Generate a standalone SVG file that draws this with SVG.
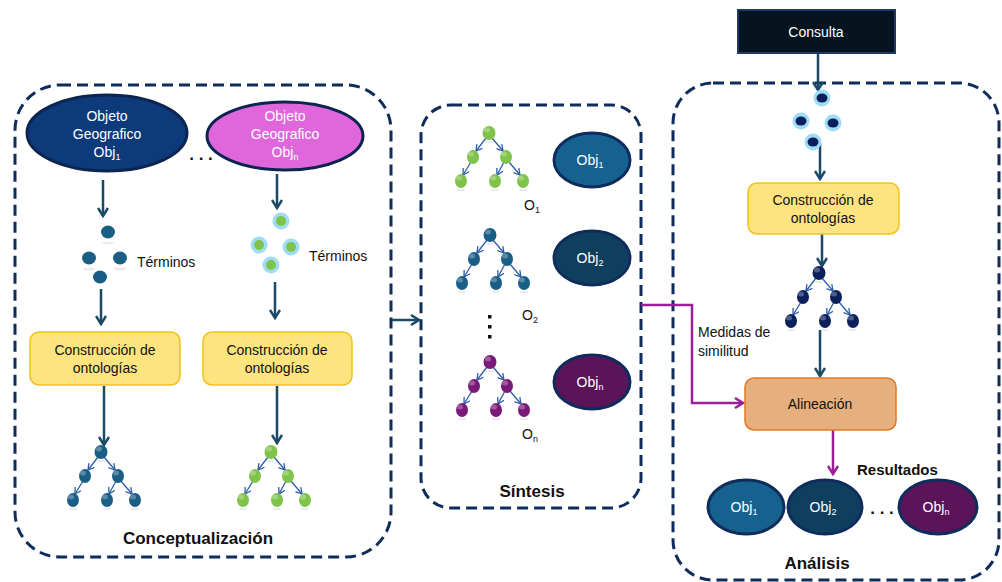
<svg xmlns="http://www.w3.org/2000/svg" width="1002" height="582" viewBox="0 0 1002 582">
  <style>
    .frame { fill: none; stroke: #0f2d5c; stroke-width: 3; stroke-dasharray: 11 6; }
    .txt { font-family: "Liberation Sans", Arial, sans-serif; font-size: 14px; fill: #111; }
    .wt { fill: #fff; }
    .ttl { font-family: "Liberation Sans", Arial, sans-serif; font-size: 17px; font-weight: bold; fill: #111; }
    .sub { font-size: 9px; }
    .flow { fill: none; stroke: #1b4a66; stroke-width: 2.5; }
    .pflow { fill: none; stroke: #9b1f98; stroke-width: 2.5; }
    .edge { fill: none; stroke: #2d5da8; stroke-width: 1.3; }
    .build { fill: #fde47f; stroke: #f2c21c; stroke-width: 1.5; }
    .align { fill: #e6b07e; stroke: #e07a22; stroke-width: 1.5; }
    .obj { stroke: #0f2d5c; stroke-width: 3; }
    .shine { fill: #fff; opacity: 0.28; }
    .shadow { fill: #dfe2e6; opacity: 0.7; }
  </style>
  <defs>
    <marker id="ah" viewBox="0 0 12 12" refX="10" refY="6" markerWidth="12" markerHeight="12" orient="auto" markerUnits="userSpaceOnUse">
      <path d="M2,1 L10,6 L2,11" fill="none" stroke="#1b4a66" stroke-width="2.5"/>
    </marker>
    <marker id="ahp" viewBox="0 0 12 12" refX="10" refY="6" markerWidth="12" markerHeight="12" orient="auto" markerUnits="userSpaceOnUse">
      <path d="M2,1 L10,6 L2,11" fill="none" stroke="#9b1f98" stroke-width="2.5"/>
    </marker>
    <marker id="ahs" viewBox="0 0 8 8" refX="7" refY="4" markerWidth="8" markerHeight="8" orient="auto" markerUnits="userSpaceOnUse">
      <path d="M1,0.5 L7,4 L1,7.5" fill="none" stroke="#2d5da8" stroke-width="1.3"/>
    </marker>
    <!-- small ontology tree: edges + nodes coloured by currentColor -->
    <g id="tree">
      <ellipse class="shadow" cx="-28" cy="57" rx="4" ry="1.2"/>
      <ellipse class="shadow" cx="6" cy="57" rx="4" ry="1.2"/>
      <ellipse class="shadow" cx="34" cy="57" rx="4" ry="1.2"/>
      <ellipse class="shadow" cx="0" cy="9" rx="4" ry="1.2"/>
      <line class="edge" x1="-3" y1="5" x2="-13" y2="18" marker-end="url(#ahs)"/>
      <line class="edge" x1="3" y1="5" x2="14" y2="18" marker-end="url(#ahs)"/>
      <line class="edge" x1="-18" y1="29" x2="-26" y2="42" marker-end="url(#ahs)"/>
      <line class="edge" x1="15" y1="29" x2="8" y2="42" marker-end="url(#ahs)"/>
      <line class="edge" x1="20" y1="29" x2="31" y2="42" marker-end="url(#ahs)"/>
      <ellipse cx="0" cy="0" rx="6.5" ry="7" fill="currentColor"/>
      <ellipse cx="-16" cy="24" rx="6" ry="7" fill="currentColor"/>
      <ellipse cx="17" cy="24" rx="6" ry="7" fill="currentColor"/>
      <ellipse cx="-28" cy="48" rx="6" ry="7" fill="currentColor"/>
      <ellipse cx="6" cy="48" rx="6" ry="7" fill="currentColor"/>
      <ellipse cx="34" cy="48" rx="6" ry="7" fill="currentColor"/>
      <ellipse class="shine" cx="-2" cy="-3" rx="3" ry="2.5"/>
      <ellipse class="shine" cx="-18" cy="21" rx="3" ry="2.5"/>
      <ellipse class="shine" cx="15" cy="21" rx="3" ry="2.5"/>
      <ellipse class="shine" cx="-30" cy="45" rx="3" ry="2.5"/>
      <ellipse class="shine" cx="4" cy="45" rx="3" ry="2.5"/>
      <ellipse class="shine" cx="32" cy="45" rx="3" ry="2.5"/>
    </g>
  </defs>

  <rect width="1002" height="582" fill="#fff"/>

  <!-- stage frames -->
  <g id="stages">
    <rect id="conceptualizacion" class="frame" x="15" y="85" width="376" height="472" rx="45"/>
    <rect id="sintesis" class="frame" x="421" y="105" width="220" height="403" rx="30"/>
    <rect id="analisis" class="frame" x="673" y="83" width="326" height="497" rx="40"/>
    <text class="ttl" x="198" y="544" text-anchor="middle">Conceptualización</text>
    <text class="ttl" x="532" y="497" text-anchor="middle">Síntesis</text>
    <text class="ttl" x="817" y="569" text-anchor="middle">Análisis</text>
  </g>

  <!-- connectors -->
  <g id="connectors">
    <line class="flow" x1="103" y1="180" x2="103" y2="216" marker-end="url(#ah)"/>
    <line class="flow" x1="277" y1="174" x2="277" y2="208" marker-end="url(#ah)"/>
    <line class="flow" x1="101" y1="289" x2="101" y2="324" marker-end="url(#ah)"/>
    <line class="flow" x1="275" y1="282" x2="275" y2="318" marker-end="url(#ah)"/>
    <line class="flow" x1="104" y1="386" x2="104" y2="445" marker-end="url(#ah)"/>
    <line class="flow" x1="277" y1="386" x2="277" y2="443" marker-end="url(#ah)"/>
    <line class="flow" x1="392" y1="320" x2="419" y2="320" marker-end="url(#ah)"/>
    <line class="flow" x1="818" y1="53" x2="818" y2="90" marker-end="url(#ah)"/>
    <line class="flow" x1="820" y1="143" x2="820" y2="179" marker-end="url(#ah)"/>
    <line class="flow" x1="822" y1="234" x2="822" y2="266" marker-end="url(#ah)"/>
    <line class="flow" x1="820" y1="330" x2="820" y2="376" marker-end="url(#ah)"/>
    <polyline class="pflow" points="641,305 692,305 692,403 743,403" marker-end="url(#ahp)"/>
    <line class="pflow" x1="833" y1="430" x2="833" y2="474" marker-end="url(#ahp)"/>
    <text class="txt" x="698" y="337">Medidas de</text>
    <text class="txt" x="698" y="356">similitud</text>
  </g>

  <!-- Conceptualización -->
  <g id="objeto1">
    <ellipse cx="107" cy="133" rx="80" ry="38" fill="#0d3a7a" stroke="#0b2550" stroke-width="3"/>
    <text class="txt wt" x="107" y="121" text-anchor="middle">Objeto</text>
    <text class="txt wt" x="107" y="139" text-anchor="middle">Geografico</text>
    <text class="txt wt" x="107" y="157" text-anchor="middle">Obj<tspan class="sub" dy="3">1</tspan></text>
  </g>
  <text class="ttl" x="201" y="160" text-anchor="middle">. . .</text>
  <g id="objetoN">
    <ellipse cx="285" cy="136" rx="78" ry="34" fill="#e066dc" stroke="#0b2550" stroke-width="3"/>
    <text class="txt wt" x="285" y="121" text-anchor="middle">Objeto</text>
    <text class="txt wt" x="285" y="139" text-anchor="middle">Geografico</text>
    <text class="txt wt" x="285" y="157" text-anchor="middle">Obj<tspan class="sub" dy="3">n</tspan></text>
  </g>

  <g id="terminos1">
    <ellipse class="shadow" cx="108" cy="243" rx="6" ry="1.3"/>
    <ellipse class="shadow" cx="89" cy="269" rx="6" ry="1.3"/>
    <ellipse class="shadow" cx="120" cy="269" rx="6" ry="1.3"/>
    <ellipse cx="108" cy="232" rx="7" ry="6.5" fill="#1a5e85"/>
    <ellipse cx="89" cy="258" rx="7" ry="6.5" fill="#1a5e85"/>
    <ellipse cx="120" cy="258" rx="7" ry="6.5" fill="#1a5e85"/>
    <ellipse cx="100" cy="277" rx="7" ry="6.5" fill="#1a5e85"/>
    <text class="txt" x="137" y="267">Términos</text>
  </g>
  <g id="terminosN">
    <circle cx="281" cy="221" r="8.5" fill="#9fdcf5"/>
    <circle cx="259" cy="245" r="8.5" fill="#9fdcf5"/>
    <circle cx="291" cy="247" r="8.5" fill="#9fdcf5"/>
    <circle cx="271" cy="265" r="8.5" fill="#9fdcf5"/>
    <circle cx="281" cy="221" r="5" fill="#7fc34a"/>
    <circle cx="259" cy="245" r="5" fill="#7fc34a"/>
    <circle cx="291" cy="247" r="5" fill="#7fc34a"/>
    <circle cx="271" cy="265" r="5" fill="#7fc34a"/>
    <text class="txt" x="309" y="261">Términos</text>
  </g>

  <g id="construccion1">
    <rect class="build" x="30" y="332" width="150" height="53" rx="9"/>
    <text class="txt" x="105" y="355" text-anchor="middle">Construcción de</text>
    <text class="txt" x="105" y="373" text-anchor="middle">ontologías</text>
  </g>
  <g id="construccionN">
    <rect class="build" x="203" y="332" width="149" height="53" rx="9"/>
    <text class="txt" x="277" y="355" text-anchor="middle">Construcción de</text>
    <text class="txt" x="277" y="373" text-anchor="middle">ontologías</text>
  </g>

  <g id="ontologia1"><use href="#tree" x="101" y="452" color="#1a5e85"/></g>
  <g id="ontologiaN"><use href="#tree" x="271" y="452" color="#7fc34a"/></g>

  <!-- Síntesis -->
  <g id="o1">
    <use href="#tree" x="489" y="133" color="#7fc34a"/>
    <text class="txt" x="524" y="210">O<tspan class="sub" dy="3">1</tspan></text>
  </g>
  <g id="sobj1">
    <ellipse class="obj" cx="592" cy="160" rx="38" ry="27" fill="#16628f"/>
    <text class="txt wt" x="590" y="165" text-anchor="middle">Obj<tspan class="sub" dy="3">1</tspan></text>
  </g>
  <g id="o2">
    <use href="#tree" x="490" y="235" color="#1a5e85"/>
    <text class="txt" x="522" y="320">O<tspan class="sub" dy="3">2</tspan></text>
  </g>
  <g id="sobj2">
    <ellipse class="obj" cx="592" cy="258" rx="38" ry="27" fill="#0f3f5e"/>
    <text class="txt wt" x="590" y="263" text-anchor="middle">Obj<tspan class="sub" dy="3">2</tspan></text>
  </g>
  <g id="vdots" fill="#111">
    <rect x="488" y="315" width="3.5" height="3.5"/>
    <rect x="488" y="325" width="3.5" height="3.5"/>
    <rect x="488" y="335" width="3.5" height="3.5"/>
  </g>
  <g id="on">
    <use href="#tree" x="490" y="362" color="#7a1a78"/>
    <text class="txt" x="522" y="439">O<tspan class="sub" dy="3">n</tspan></text>
  </g>
  <g id="sobjN">
    <ellipse class="obj" cx="592" cy="382" rx="38" ry="27" fill="#5a1457"/>
    <text class="txt wt" x="590" y="387" text-anchor="middle">Obj<tspan class="sub" dy="3">n</tspan></text>
  </g>

  <!-- Análisis -->
  <g id="consulta">
    <rect x="738" y="10" width="157" height="43" fill="#06141f" stroke="#1f3864" stroke-width="2"/>
    <text class="txt wt" x="816" y="37" text-anchor="middle">Consulta</text>
  </g>
  <g id="terminosConsulta">
    <circle cx="822" cy="98" r="8.5" fill="#9fdcf5"/>
    <circle cx="801" cy="121" r="8.5" fill="#9fdcf5"/>
    <circle cx="833" cy="123" r="8.5" fill="#9fdcf5"/>
    <circle cx="813" cy="142" r="8.5" fill="#9fdcf5"/>
    <ellipse cx="822" cy="98" rx="5.5" ry="4.5" fill="#0a1f5c"/>
    <ellipse cx="801" cy="121" rx="5.5" ry="4.5" fill="#0a1f5c"/>
    <ellipse cx="833" cy="123" rx="5.5" ry="4.5" fill="#0a1f5c"/>
    <ellipse cx="813" cy="142" rx="5.5" ry="4.5" fill="#0a1f5c"/>
  </g>
  <g id="construccionConsulta">
    <rect class="build" x="748" y="183" width="151" height="51" rx="9"/>
    <text class="txt" x="823" y="205" text-anchor="middle">Construcción de</text>
    <text class="txt" x="823" y="223" text-anchor="middle">ontologías</text>
  </g>
  <g id="ontologiaConsulta"><use href="#tree" x="819" y="273" color="#0a1f5c"/></g>
  <g id="alineacion">
    <rect class="align" x="745" y="378" width="151" height="52" rx="9"/>
    <text class="txt" x="820" y="409" text-anchor="middle">Alineación</text>
  </g>
  <text class="ttl" x="857" y="475" style="font-size:15px">Resultados</text>
  <g id="res1">
    <ellipse class="obj" cx="746" cy="507" rx="38" ry="27" fill="#16628f"/>
    <text class="txt wt" x="744" y="512" text-anchor="middle">Obj<tspan class="sub" dy="3">1</tspan></text>
  </g>
  <g id="res2">
    <ellipse class="obj" cx="825" cy="507" rx="37" ry="27" fill="#0f3f5e"/>
    <text class="txt wt" x="823" y="512" text-anchor="middle">Obj<tspan class="sub" dy="3">2</tspan></text>
  </g>
  <text class="ttl" x="882" y="514" text-anchor="middle">. . .</text>
  <g id="resN">
    <ellipse class="obj" cx="938" cy="507" rx="39" ry="27" fill="#5a1457"/>
    <text class="txt wt" x="936" y="512" text-anchor="middle">Obj<tspan class="sub" dy="3">n</tspan></text>
  </g>
</svg>
